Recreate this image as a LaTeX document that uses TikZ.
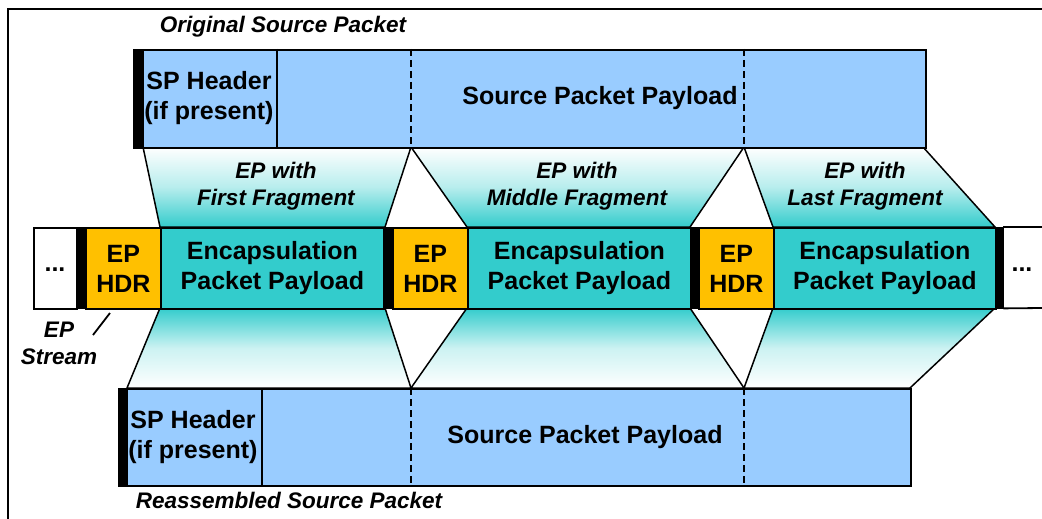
\documentclass[tikz,border=0pt]{standalone}
\usepackage{fontspec}
\setmainfont{Liberation Sans}
\definecolor{spblue}{RGB}{153,204,255}
\definecolor{epteal}{RGB}{51,204,204}
\definecolor{eporange}{RGB}{255,192,0}
\tikzset{
  box/.style={draw=black, line width=1.8pt, inner sep=0pt, anchor=north west, font=\bfseries\fontsize{25}{30}\selectfont, align=center},
  hdrbox/.style={box, fill=eporange},
  paybox/.style={box, fill=epteal},
  barbox/.style={draw=black, fill=black, inner sep=0pt, anchor=north west, minimum width=8pt},
  pktbox/.style={box, fill=spblue},
  lbl/.style={font=\bfseries\fontsize{25}{30}\selectfont, align=center, inner sep=0pt},
  dots/.style={font=\bfseries\fontsize{25}{30}\selectfont, inner sep=0pt},
  ilbl/.style={font=\bfseries\itshape\fontsize{22.5}{27}\selectfont, align=center, inner sep=0pt},
  upfan/.style={draw=black, line width=1.5pt, top color=white, bottom color=epteal, middle color=epteal!35!white},
  downfan/.style={draw=black, line width=1.5pt, top color=epteal, bottom color=white, middle color=epteal!25!white},
  divider/.style={draw=black, line width=1.4pt},
  dashdiv/.style={draw=black, line width=2pt, dash pattern=on 7pt off 4pt},
}
\begin{document}
\begin{tikzpicture}[x=1pt,y=-1pt]
\useasboundingbox (0,0) rectangle (1042,519);
% frame
\draw[line width=1.8pt] (8,519) -- (8,9) -- (1042,9);

% fans (upper)
\coordinate (u1a) at (143,147); \coordinate (u1b) at (411,147);
\coordinate (u1c) at (385,227); \coordinate (u1d) at (160,227);
\shadedraw[upfan] (u1a) -- (u1b) -- (u1c) -- (u1d) -- cycle;
\coordinate (u2a) at (411,147); \coordinate (u2b) at (744,147);
\coordinate (u2c) at (690,227); \coordinate (u2d) at (467,227);
\shadedraw[upfan] (u2a) -- (u2b) -- (u2c) -- (u2d) -- cycle;
\coordinate (u3a) at (744,147); \coordinate (u3b) at (923,147);
\coordinate (u3c) at (995,227); \coordinate (u3d) at (773,227);
\shadedraw[upfan] (u3a) -- (u3b) -- (u3c) -- (u3d) -- cycle;
% fans (lower)
\coordinate (l1a) at (160,308); \coordinate (l1b) at (385,308);
\coordinate (l1c) at (411,388); \coordinate (l1d) at (127,388);
\shadedraw[downfan] (l1a) -- (l1b) -- (l1c) -- (l1d) -- cycle;
\coordinate (l2a) at (467,308); \coordinate (l2b) at (690,308);
\coordinate (l2c) at (744,388); \coordinate (l2d) at (411,388);
\shadedraw[downfan] (l2a) -- (l2b) -- (l2c) -- (l2d) -- cycle;
\coordinate (l3a) at (773,308); \coordinate (l3b) at (995,308);
\coordinate (l3c) at (910,388); \coordinate (l3d) at (744,388);
\shadedraw[downfan] (l3a) -- (l3b) -- (l3c) -- (l3d) -- cycle;

% original source packet
\node[pktbox, minimum width=792pt, minimum height=98pt] (osp) at (133,49) {};
\node[barbox, minimum width=10pt, minimum height=98pt] (ospbar) at (133,49) {};
\draw[divider] (277,49) -- (277,147);
\draw[dashdiv] (411,49) -- (411,147);
\draw[dashdiv] (744,49) -- (744,147);
\node[lbl] (osphdr) at (209,98) {SP Header\\(if present)};
\node[lbl] (osppay) at (600,98) {Source Packet Payload};
\node[ilbl] (osplbl) at (283,27) {Original Source Packet};

% EP stream
\node[box, fill=white, minimum width=43pt, minimum height=81pt] (dl) at (33,227) {};
\node[dots] (dltxt) at (55,270) {...};
\node[barbox, minimum width=9pt, minimum height=81pt] (b0) at (76,227) {};
\node[hdrbox, minimum width=75pt, minimum height=81pt] (h1) at (85,227) {EP\\HDR};
\node[paybox, minimum width=223pt, minimum height=81pt] (p1) at (160,227) {Encapsulation\\Packet Payload};
\node[barbox, minimum width=9pt, minimum height=81pt] (b1) at (383,227) {};
\node[hdrbox, minimum width=75pt, minimum height=81pt] (h2) at (392,227) {EP\\HDR};
\node[paybox, minimum width=223pt, minimum height=81pt] (p2) at (467,227) {Encapsulation\\Packet Payload};
\node[barbox, minimum width=8pt, minimum height=81pt] (b2) at (690,227) {};
\node[hdrbox, minimum width=75pt, minimum height=81pt] (h3) at (698,227) {EP\\HDR};
\node[paybox, minimum width=222pt, minimum height=81pt] (p3) at (773,227) {Encapsulation\\Packet Payload};
\node[barbox, minimum width=8pt, minimum height=81pt] (b3) at (995,227) {};
\coordinate (drt) at (1042,227);
\coordinate (drb) at (1042,308);
\draw[line width=1.8pt] (b3.north east) -- (drt);
\draw[line width=1.8pt] (b3.south east) -- (drb);
\node[dots] (drtxt) at (1022,270) {...};

% EP stream label
\node[ilbl] (eps) at (59,343) {EP\\Stream};
\coordinate (epsa) at (93,335);
\coordinate (epsb) at (110,313);
\draw[line width=1.8pt] (epsa) -- (epsb);

% reassembled source packet
\node[pktbox, minimum width=792pt, minimum height=97pt] (rsp) at (118,388) {};
\node[barbox, minimum width=9pt, minimum height=97pt] (rspbar) at (118,388) {};
\draw[divider] (262,388) -- (262,485);
\draw[dashdiv] (411,388) -- (411,485);
\draw[dashdiv] (744,388) -- (744,485);
\node[lbl] (rsphdr) at (193,437) {SP Header\\(if present)};
\node[lbl] (rsppay) at (585,437) {Source Packet Payload};
\node[ilbl] (rsplbl) at (289,500) {Reassembled Source Packet};

% fan labels
\node[ilbl] (f1) at (276,186) {EP with\\First Fragment};
\node[ilbl] (f2) at (577,186) {EP with\\Middle Fragment};
\node[ilbl] (f3) at (865,186) {EP with\\Last Fragment};
\end{tikzpicture}
\end{document}
